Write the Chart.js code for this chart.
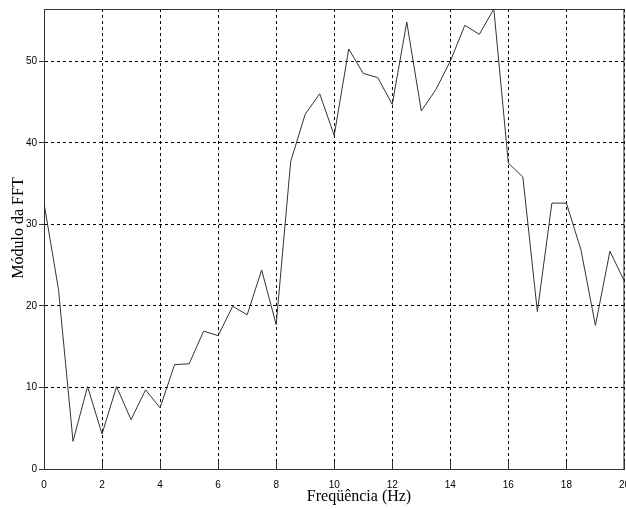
<!DOCTYPE html>
<html>
<head>
<meta charset="utf-8">
<script src="https://cdn.jsdelivr.net/npm/chart.js@4"></script>
<style>
html,body{margin:0;padding:0;background:#fff;overflow:hidden;}
#wrap{width:640px;height:509px;}
</style>
</head>
<body>
<div id="wrap"><canvas id="c" width="640" height="509"></canvas></div>
<script>
const freqs = [0,0.5,1,1.5,2,2.5,3,3.5,4,4.5,5,5.5,6,6.5,7,7.5,8,8.5,9,9.5,10,10.5,11,11.5,12,12.5,13,13.5,14,14.5,15,15.5,16,16.5,17,17.5,18,18.5,19,19.5,20];
const fftMag = [32.6,22.0,3.4,10.1,4.3,10.1,6.05,9.7,7.5,12.8,12.9,16.9,16.35,19.95,18.9,24.4,17.7,37.7,43.5,46.0,40.9,51.5,48.5,48.0,44.7,54.8,43.9,46.5,50.0,54.4,53.3,56.4,37.5,35.8,19.3,32.6,32.6,26.9,17.6,26.7,23.0];
const xTicks = [0,2,4,6,8,10,12,14,16,18,20];
const yTicks = [0,10,20,30,40,50];
const xLabel = 'Freqüência (Hz)';
const yLabel = 'Módulo da FFT';

const points = freqs.map((f,i)=>({x:f,y:fftMag[i]}));

const titlesPlugin = {
  id:'titles',
  afterDraw(chart){
    const ctx = chart.ctx, a = chart.chartArea;
    ctx.save();
    ctx.strokeStyle = '#333'; ctx.lineWidth = 1; ctx.setLineDash([]);
    ctx.beginPath();
    ctx.moveTo(a.left, a.top+0.5); ctx.lineTo(a.right, a.top+0.5);
    ctx.moveTo(a.right-0.5, a.top); ctx.lineTo(a.right-0.5, a.bottom);
    // inward tick marks on the x axis
    const xs = chart.scales.x;
    xTicks.forEach(v=>{
      const px = Math.round(xs.getPixelForValue(v)) + 0.5;
      ctx.moveTo(px, a.bottom); ctx.lineTo(px, a.bottom-8);
    });
    ctx.stroke();
    ctx.fillStyle = '#000';
    ctx.font = '16px "Liberation Serif", "Times New Roman", serif';
    ctx.textAlign = 'center'; ctx.textBaseline = 'middle';
    ctx.fillText(xLabel, 359, 497);
    ctx.translate(19, 228);
    ctx.rotate(-Math.PI/2);
    ctx.fillText(yLabel, 0, 0);
    ctx.restore();
  }
};

new Chart(document.getElementById('c'), {
  type:'line',
  data:{datasets:[{data:points, borderColor:'#333', borderWidth:1, pointRadius:0, tension:0, fill:false}]},
  options:{
    responsive:false, animation:false,
    layout:{padding:{top:9, right:13, left:0, bottom:0}},
    plugins:{legend:{display:false}, tooltip:{enabled:false}},
    scales:{
      x:{type:'linear', min:0, max:20,
        afterBuildTicks(s){ s.ticks = xTicks.map(v=>({value:v})); },
        afterFit(s){ s.height = 40; },
        grid:{color:'#000', lineWidth:1, drawTicks:false},
        border:{display:true, color:'#333', width:1, dash:[3,3]},
        ticks:{padding:10, color:'#000', font:{family:'"Liberation Sans", Arial, sans-serif', size:10}, maxRotation:0}
      },
      y:{type:'linear', min:0, max:56.4,
        afterBuildTicks(s){ s.ticks = yTicks.map(v=>({value:v})); },
        afterFit(s){ s.width = 44; },
        grid:{color:'#000', lineWidth:1, drawTicks:true, tickLength:5, tickColor:'#333'},
        border:{display:true, color:'#333', width:1, dash:[3,3]},
        ticks:{padding:2, color:'#000', font:{family:'"Liberation Sans", Arial, sans-serif', size:10}}
      }
    }
  },
  plugins:[titlesPlugin]
});
</script>
</body>
</html>
